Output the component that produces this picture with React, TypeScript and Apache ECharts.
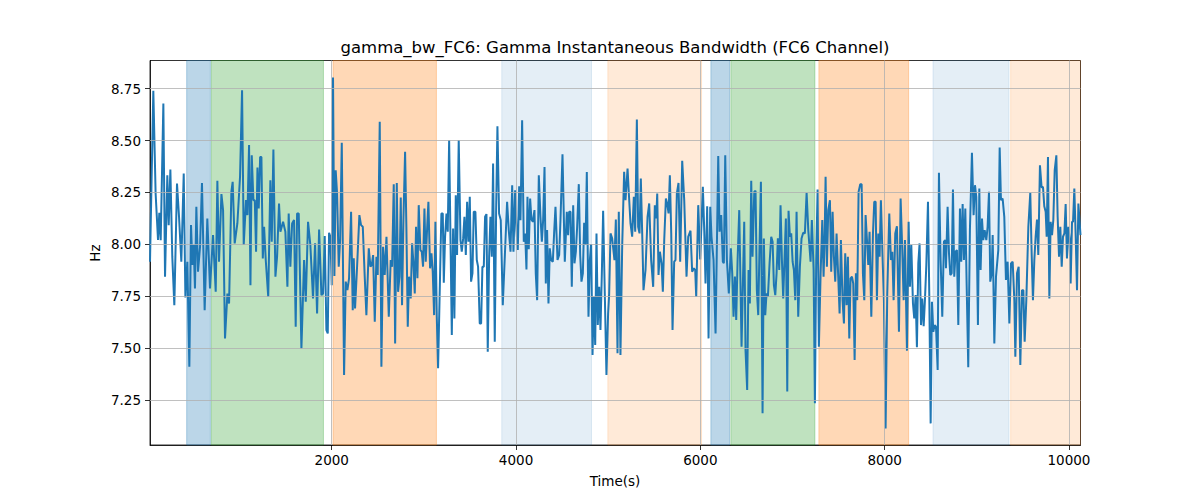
import React, { useEffect, useRef } from "react";
import * as echarts from "echarts";

const timeSec = [
  28, 64, 89, 115, 129, 144, 173, 191, 216, 231, 249, 270, 292, 321, 343, 368, 394, 412, 433, 455,
  473, 488, 502, 516, 531, 549, 571, 592, 621, 650, 679, 712, 741, 759, 777, 803, 821, 842, 868, 886,
  911, 925, 947, 976, 1005, 1027, 1045, 1070, 1085, 1103, 1118, 1132, 1150, 1165, 1179, 1194, 1208, 1223, 1237, 1252,
  1266, 1284, 1311, 1334, 1349, 1367, 1389, 1407, 1428, 1443, 1472, 1497, 1519, 1533, 1551, 1570, 1591, 1609, 1624, 1642,
  1671, 1700, 1718, 1743, 1768, 1797, 1819, 1841, 1863, 1888, 1906, 1924, 1942, 1957, 1971, 1986, 2000, 2014, 2029, 2043,
  2058, 2076, 2091, 2109, 2134, 2152, 2170, 2188, 2210, 2228, 2239, 2253, 2275, 2300, 2318, 2337, 2358, 2376, 2402, 2420,
  2434, 2449, 2467, 2485, 2499, 2521, 2539, 2557, 2575, 2594, 2619, 2640, 2655, 2673, 2688, 2706, 2720, 2735, 2749, 2763,
  2778, 2796, 2810, 2825, 2839, 2857, 2872, 2887, 2901, 2915, 2930, 2944, 2962, 2977, 2991, 3006, 3020, 3035, 3049, 3067,
  3082, 3096, 3111, 3125, 3140, 3154, 3176, 3190, 3205, 3216, 3230, 3245, 3259, 3274, 3288, 3303, 3317, 3331, 3346, 3360,
  3378, 3397, 3411, 3426, 3440, 3455, 3469, 3484, 3498, 3512, 3527, 3541, 3559, 3574, 3588, 3606, 3621, 3635, 3650, 3664,
  3679, 3693, 3708, 3722, 3737, 3751, 3769, 3784, 3798, 3816, 3834, 3856, 3903, 3921, 3940, 3958, 3972, 3990, 4005, 4019,
  4034, 4048, 4066, 4084, 4099, 4113, 4124, 4138, 4153, 4167, 4182, 4200, 4214, 4229, 4247, 4265, 4280, 4294, 4309, 4323,
  4337, 4352, 4366, 4381, 4399, 4413, 4428, 4450, 4468, 4482, 4504, 4529, 4551, 4565, 4576, 4591, 4605, 4620, 4634, 4649,
  4663, 4681, 4696, 4710, 4725, 4739, 4754, 4768, 4786, 4801, 4815, 4830, 4844, 4859, 4873, 4887, 4902, 4916, 4931, 4945,
  4963, 4981, 4999, 5010, 5025, 5043, 5068, 5083, 5101, 5115, 5133, 5152, 5173, 5188, 5210, 5224, 5242, 5260, 5278, 5293,
  5311, 5325, 5340, 5354, 5369, 5383, 5405, 5427, 5445, 5466, 5488, 5506, 5521, 5532, 5546, 5561, 5579, 5593, 5608, 5626,
  5640, 5655, 5669, 5684, 5698, 5716, 5730, 5745, 5763, 5781, 5803, 5825, 5850, 5868, 5893, 5911, 5930, 5944, 5955, 5977,
  5998, 6027, 6042, 6056, 6074, 6089, 6107, 6121, 6143, 6165, 6194, 6208, 6226, 6244, 6255, 6270, 6288, 6309, 6331, 6346,
  6360, 6375, 6389, 6404, 6422, 6447, 6476, 6490, 6508, 6523, 6537, 6552, 6566, 6585, 6599, 6613, 6628, 6642, 6657, 6675,
  6689, 6704, 6718, 6733, 6751, 6769, 6784, 6798, 6813, 6827, 6841, 6856, 6870, 6885, 6899, 6914, 6928, 6943, 6957, 6972,
  6986, 7001, 7015, 7030, 7044, 7062, 7080, 7098, 7116, 7134, 7153, 7171, 7196, 7210, 7229, 7243, 7257, 7272, 7286, 7305,
  7323, 7337, 7348, 7359, 7373, 7388, 7406, 7420, 7435, 7449, 7464, 7478, 7496, 7511, 7525, 7543, 7558, 7572, 7587, 7601,
  7616, 7630, 7645, 7659, 7674, 7688, 7702, 7717, 7735, 7750, 7764, 7779, 7793, 7808, 7822, 7836, 7855, 7873, 7887, 7902,
  7916, 7931, 7945, 7959, 7978, 7992, 8010, 8028, 8050, 8068, 8083, 8097, 8115, 8133, 8155, 8173, 8191, 8206, 8220, 8242,
  8260, 8274, 8289, 8307, 8321, 8336, 8350, 8365, 8379, 8394, 8408, 8423, 8437, 8452, 8470, 8484, 8499, 8513, 8528, 8542,
  8557, 8575, 8589, 8607, 8625, 8643, 8658, 8665, 8683, 8698, 8712, 8727, 8741, 8755, 8770, 8784, 8799, 8817, 8831, 8846,
  8860, 8875, 8889, 8907, 8925, 8947, 8965, 8980, 8994, 9012, 9027, 9041, 9056, 9070, 9085, 9103, 9117, 9132, 9146, 9161,
  9172, 9190, 9208, 9233, 9248, 9262, 9280, 9298, 9316, 9334, 9353, 9371, 9389, 9407, 9418, 9436, 9454, 9472, 9490, 9505,
  9519, 9537, 9559, 9580, 9595, 9609, 9624, 9638, 9653, 9667, 9685, 9703, 9718, 9732, 9747, 9758, 9772, 9787, 9801, 9816,
  9830, 9845, 9863, 9877, 9892, 9906, 9921, 9935, 9950, 9964, 9978, 9993, 10007, 10018, 10033, 10044, 10058, 10073, 10087, 10102,
  10125,
];

const gammaBw = [
  7.917, 8.739, 8.245, 8.021, 8.152, 8.02, 8.678, 7.845, 8.333, 8.093, 8.36, 7.94, 7.708, 8.293, 8.133, 7.917, 8.341, 7.745, 7.917, 7.412,
  8.093, 7.901, 7.997, 7.788, 8.181, 7.869, 7.989, 8.296, 7.684, 8.125, 7.788, 8.045, 7.772, 8.306, 7.917, 8.242, 8.165, 7.548, 7.764, 7.716,
  8.253, 8.301, 8.005, 8.101, 8.325, 8.742, 7.997, 8.213, 8.141, 8.478, 7.804, 8.429, 8.213, 8.213, 7.965, 8.37, 8.173, 8.421, 8.421, 7.933,
  8.085, 7.925, 7.748, 8.309, 8.013, 8.457, 7.845, 7.941, 8.197, 8.061, 8.109, 8.061, 7.796, 8.149, 7.893, 8.101, 8.117, 7.604, 8.149, 8.149,
  7.5, 7.925, 7.724, 8.109, 7.997, 7.74, 8.005, 7.668, 8.072, 7.756, 7.764, 8.04, 7.588, 7.572, 8.056, 8.037, 7.804, 8.803, 7.848, 8.357,
  8.245, 7.893, 8.021, 8.489, 7.372, 7.821, 7.78, 7.837, 8.157, 7.684, 7.933, 7.692, 7.893, 8.141, 8.093, 8.085, 7.845, 7.66, 7.981, 7.893,
  7.901, 7.949, 7.628, 7.941, 7.853, 8.59, 7.412, 7.989, 7.853, 8.037, 7.652, 7.925, 7.893, 8.29, 7.524, 8.296, 7.772, 7.845, 8.226, 7.708,
  8.117, 8.446, 8.085, 7.604, 7.845, 7.74, 8.005, 7.909, 7.764, 8.085, 7.837, 8.189, 7.973, 7.965, 7.893, 8.173, 7.917, 8.077, 8.205, 7.885,
  7.957, 7.869, 7.66, 8.109, 7.652, 7.404, 7.861, 8.149, 8.149, 7.816, 8.037, 8.149, 8.061, 8.502, 8.053, 7.564, 8.077, 7.644, 8.237, 7.949,
  8.502, 8.021, 7.965, 8.029, 8.133, 7.949, 8.205, 8.013, 8.229, 7.821, 7.861, 8.157, 8.157, 7.925, 7.893, 7.62, 7.62, 7.893, 7.893, 8.133,
  8.146, 7.484, 7.941, 8.133, 7.941, 8.389, 7.532, 8.165, 8.569, 8.149, 8.117, 7.708, 8.205, 8.069, 7.965, 8.285, 7.965, 8.261, 8.069, 7.973,
  8.28, 8.117, 8.598, 8.013, 8.053, 7.88, 8.229, 7.977, 8.221, 8.12, 8.109, 8.165, 7.861, 7.732, 8.333, 8.133, 8.013, 8.117, 8.373, 7.812,
  8.069, 7.716, 7.981, 7.925, 7.917, 8.053, 8.181, 7.925, 7.949, 8.117, 8.434, 7.917, 8.157, 8.045, 8.157, 8.157, 7.796, 8.189, 7.909, 7.965,
  8.085, 8.29, 7.949, 7.821, 7.861, 8.104, 7.997, 8.349, 7.652, 7.925, 8.002, 7.468, 7.748, 7.516, 8.053, 7.612, 7.796, 7.588, 7.861, 8.162,
  7.764, 7.372, 7.668, 7.756, 8.053, 8.029, 7.925, 8.12, 7.476, 8.157, 7.468, 7.997, 8.349, 8.213, 8.365, 8.245, 8.101, 8.037, 8.229, 8.061,
  8.601, 8.085, 8.053, 8.317, 8.053, 7.78, 7.877, 8.133, 8.197, 7.925, 7.796, 8.189, 8.125, 8.245, 7.853, 7.965, 7.909, 7.772, 8.021, 8.221,
  8.197, 8.149, 8.333, 8.053, 7.588, 7.917, 7.925, 8.245, 8.296, 7.917, 8.402, 8.213, 7.845, 8.037, 8.066, 7.869, 7.885, 7.877, 7.748, 8.189,
  7.928, 8.277, 8.069, 7.812, 8.184, 7.548, 8.181, 8.037, 7.925, 7.572, 8.425, 8.061, 8.141, 7.917, 7.909, 8.429, 7.925, 7.764, 7.981, 7.861,
  7.652, 7.845, 7.636, 7.925, 8.165, 7.508, 8.109, 7.492, 7.3, 7.877, 7.716, 8.306, 7.941, 8.253, 8.258, 7.78, 7.66, 7.989, 8.301, 7.188,
  8.029, 7.66, 7.764, 7.748, 7.909, 8.037, 8.013, 7.804, 7.756, 7.861, 8.029, 7.877, 8.189, 7.925, 7.74, 7.941, 8.125, 7.292, 8.162, 8.037,
  8.053, 7.917, 7.877, 7.732, 8.157, 7.652, 7.893, 8.029, 8.056, 8.053, 8.248, 8.069, 7.917, 8.117, 7.877, 7.236, 7.925, 8.264, 7.508, 7.861,
  8.117, 7.845, 8.013, 8.325, 7.893, 8.165, 8.213, 7.869, 8.157, 7.941, 7.821, 8.053, 7.845, 7.668, 8.021, 7.732, 7.62, 7.957, 7.708, 7.941,
  7.548, 7.837, 7.845, 7.812, 7.444, 7.861, 7.732, 8.253, 8.29, 8.29, 7.861, 7.732, 8.141, 8.021, 7.901, 8.061, 7.652, 8.053, 8.205, 8.205,
  7.732, 8.053, 7.941, 8.213, 7.925, 7.732, 7.115, 7.764, 8.149, 7.925, 7.965, 7.732, 8.053, 8.088, 7.58, 8.221, 7.973, 7.732, 8.021, 7.489,
  8.109, 7.796, 7.997, 7.716, 7.644, 7.756, 7.505, 7.909, 8.005, 7.612, 7.74, 7.607, 7.732, 7.901, 8.205, 7.764, 7.139, 7.724, 7.58, 7.612,
  7.604, 7.396, 8.345, 7.925, 7.652, 8.013, 8.021, 7.885, 8.181, 7.957, 7.853, 7.861, 8.264, 7.845, 7.965, 7.973, 7.612, 8.173, 7.917, 8.194,
  7.925, 8.173, 7.821, 7.409, 8.069, 8.441, 8.141, 8.285, 8.229, 7.612, 8.269, 7.877, 8.125, 8.021, 8.069, 8.021, 8.085, 8.253, 7.821, 7.861,
  8.045, 7.524, 7.845, 7.973, 8.466, 8.213, 8.221, 8.133, 7.829, 7.917, 7.62, 7.909, 7.917, 7.732, 7.46, 7.861, 7.893, 7.42, 7.78, 7.78,
  7.532, 7.732, 8.085, 8.248, 7.957, 7.732, 7.925, 8.037, 8.12, 7.949, 8.381, 8.274, 8.277, 8.184, 8.157, 8.037, 8.421, 7.74, 8.109, 8.045,
  8.117, 8.357, 8.429, 8.133, 7.941, 8.085, 7.893, 8.037, 8.053, 8.194, 7.933, 8.085, 8.029, 7.812, 8.109, 8.109, 8.269, 8.037, 7.78, 8.197,
  8.045,
];

const xTicks = [2000, 4000, 6000, 8000, 10000];
const yTicks = [7.25, 7.5, 7.75, 8.0, 8.25, 8.5, 8.75];

const spanStart = [426, 694, 2014, 3845, 4996, 6114, 6331, 7286, 8524, 9367];
const spanEnd = [683, 1910, 3136, 4819, 6013, 6317, 7243, 8260, 9349, 10125];
const spanKind = ["blue", "green", "orange", "lightblue", "lightorange", "blue", "green", "orange", "lightblue", "lightorange"];

const TITLE = "gamma_bw_FC6: Gamma Instantaneous Bandwidth (FC6 Channel)";
const X_NAME = "Time(s)";
const Y_NAME = "Hz";

const X_MIN = 28;
const X_MAX = 10125;
const Y_MIN = 7.035;
const Y_MAX = 8.885;

const spanColor: Record<string, string> = {
  blue: "rgba(31,119,180,0.3)",
  green: "rgba(44,160,44,0.3)",
  orange: "rgba(255,127,14,0.3)",
  lightblue: "rgba(31,119,180,0.12)",
  lightorange: "rgba(255,127,14,0.16)",
};

const FONT = "'DejaVu Sans', Verdana, sans-serif";

export default function App() {
  const ref = useRef<HTMLDivElement>(null);

  useEffect(() => {
    document.body.style.margin = "0";
    if (!ref.current) return;
    const chart = echarts.init(ref.current, undefined, { renderer: "svg" });

    const points = timeSec.map((t, i) => [t, gammaBw[i]]);

    const areas = spanStart.map((s, i) => [
      {
        xAxis: s,
        itemStyle: {
          color: spanColor[spanKind[i]],
          borderColor: spanColor[spanKind[i]],
          borderWidth: 1,
        },
      },
      { xAxis: spanEnd[i] },
    ]);

    const gridLines = [
      ...xTicks.map((v) => ({ xAxis: v })),
      ...yTicks.map((v) => ({ yAxis: v })),
    ];

    chart.setOption({
      animation: false,
      grid: {
        left: 150,
        right: 119.5,
        top: 60.5,
        bottom: 55,
        show: true,
        borderColor: "#000",
        borderWidth: 0.8,
        backgroundColor: "transparent",
      },
      xAxis: {
        type: "value",
        min: X_MIN,
        max: X_MAX,
        splitLine: { show: false },
        axisLine: { show: true, onZero: false, lineStyle: { color: "#000", width: 0.8 } },
        axisTick: {
          show: true,
          customValues: xTicks,
          length: 5,
          lineStyle: { color: "#000", width: 0.8 },
        },
        axisLabel: {
          customValues: xTicks,
          margin: 8,
          color: "#000",
          fontSize: 13.5,
          fontFamily: FONT,
          formatter: (v: number) => String(v),
        },
      },
      yAxis: {
        type: "value",
        min: Y_MIN,
        max: Y_MAX,
        splitLine: { show: false },
        axisLine: { show: true, onZero: false, lineStyle: { color: "#000", width: 0.8 } },
        axisTick: {
          show: true,
          customValues: yTicks,
          length: 5,
          lineStyle: { color: "#000", width: 0.8 },
        },
        axisLabel: {
          customValues: yTicks,
          margin: 9,
          color: "#000",
          fontSize: 13.5,
          fontFamily: FONT,
          formatter: (v: number) => v.toFixed(2),
        },
      },
      graphic: [
        {
          type: "text",
          x: 615,
          y: 47,
          style: {
            text: TITLE,
            font: `16.5px ${FONT}`,
            fill: "#000",
            align: "center",
            verticalAlign: "middle",
            textAlign: "center",
            textVerticalAlign: "middle",
          },
        },
        {
          type: "text",
          x: 615,
          y: 481,
          style: {
            text: X_NAME,
            font: `13.5px ${FONT}`,
            fill: "#000",
            align: "center",
            verticalAlign: "middle",
            textAlign: "center",
            textVerticalAlign: "middle",
          },
        },
        {
          type: "text",
          x: 95,
          y: 253,
          rotation: Math.PI / 2,
          style: {
            text: Y_NAME,
            font: `13.5px ${FONT}`,
            fill: "#000",
            align: "center",
            verticalAlign: "middle",
            textAlign: "center",
            textVerticalAlign: "middle",
          },
        },
      ],
      series: [
        {
          type: "line",
          data: [],
          z: 1,
          silent: true,
          markArea: { silent: true, data: areas },
        },
        {
          type: "line",
          data: [],
          z: 2,
          silent: true,
          markLine: {
            silent: true,
            symbol: ["none", "none"],
            label: { show: false },
            lineStyle: { color: "#b0b0b0", width: 0.8, type: "solid" },
            data: gridLines,
          },
        },
        {
          type: "line",
          data: points,
          z: 3,
          showSymbol: false,
          symbol: "none",
          clip: true,
          lineStyle: { color: "#1f77b4", width: 2 },
          itemStyle: { color: "#1f77b4" },
        },
      ],
    });

    return () => chart.dispose();
  }, []);

  return <div ref={ref} style={{ width: 1200, height: 500 }} />;
}
